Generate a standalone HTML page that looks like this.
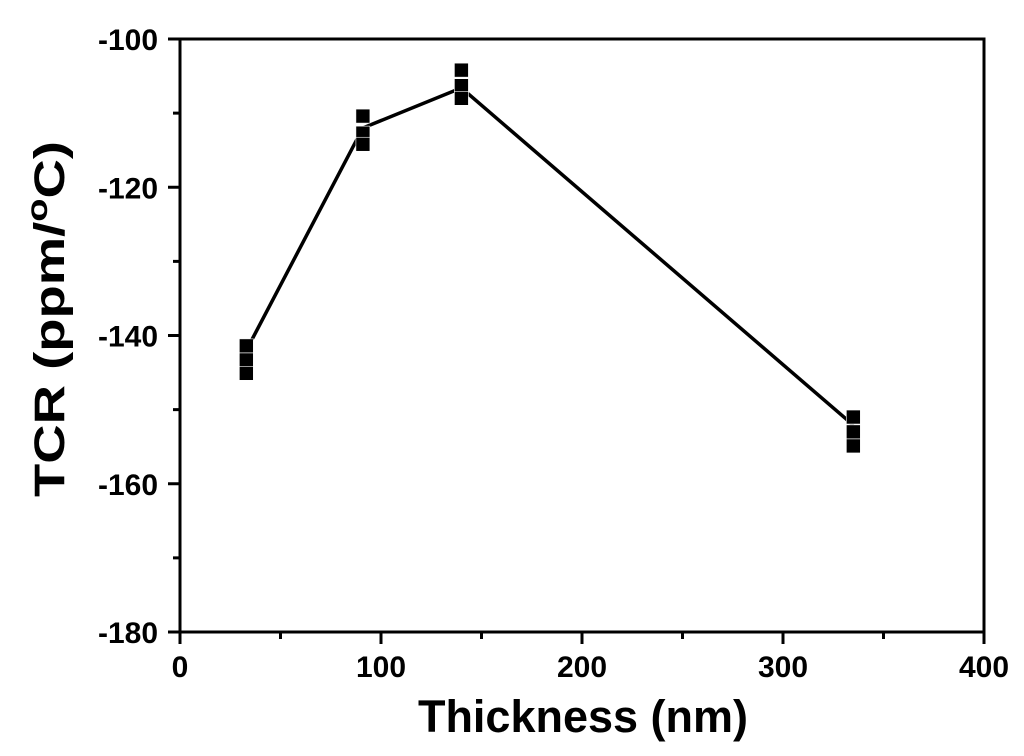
<!DOCTYPE html>
<html><head><meta charset="utf-8"><style>
html,body{margin:0;padding:0;background:#fff;}
svg text{font-family:"Liberation Sans",Arial,sans-serif;font-weight:bold;fill:#000;}
</style></head><body>
<svg id="chart" width="1024" height="751" viewBox="0 0 1024 751" xmlns="http://www.w3.org/2000/svg"></svg>
<script>
const xTicks=[0,100,200,300,400];
const yTicks=[-100,-120,-140,-160,-180];
const thickness=[33,91,140,335];
const run1=[-141.4,-110.4,-104.2,-151.0];
const run2=[-143.3,-112.7,-106.3,-153.0];
const run3=[-145.1,-114.2,-108.0,-154.9];
const meanLine=[-142.0,-112.0,-106.6,-152.1];

const L=180,R=984,T=39,B=632;
const xs=v=>L+(v-0)/(400-0)*(R-L);
const ys=v=>T+(-100-v)/(80)*(B-T);
const svg=document.getElementById('chart');
const NS='http://www.w3.org/2000/svg';
function mk(tag,attrs,parent){const e=document.createElementNS(NS,tag);for(const k in attrs)e.setAttribute(k,attrs[k]);(parent||svg).appendChild(e);return e;}

const frame=mk('rect',{x:L,y:T,width:R-L,height:B-T,fill:'none',stroke:'#000','stroke-width':3});



xTicks.forEach((v,i)=>{
  const t=mk('line',{x1:xs(v),x2:xs(v),y1:B,y2:B+12,stroke:'#000','stroke-width':3});
  
  
  const lb=mk('text',{x:xs(v),y:677,'text-anchor':'middle','font-size':30});
  lb.textContent=v;
  
  
  if(i<xTicks.length-1){
    const m=mk('line',{x1:xs(v+50),x2:xs(v+50),y1:B,y2:B+7,stroke:'#000','stroke-width':3});
    
    
  }
});
yTicks.forEach((v,i)=>{
  const t=mk('line',{x1:L-12,x2:L,y1:ys(v),y2:ys(v),stroke:'#000','stroke-width':3});
  
  
  const lb=mk('text',{x:L-22,y:ys(v)+11,'text-anchor':'end','font-size':30});
  lb.textContent=v;
  
  
  if(i<yTicks.length-1){
    const m=mk('line',{x1:L-7,x2:L,y1:ys(v-10),y2:ys(v-10),stroke:'#000','stroke-width':3});
    
    
  }
});

const pts=thickness.map((x,i)=>xs(x)+','+ys(meanLine[i])).join(' ');
const pl=mk('polyline',{points:pts,fill:'none',stroke:'#000','stroke-width':3.5});



[run1,run2,run3].forEach(run=>{
  run.forEach((v,i)=>{
    const r=mk('rect',{x:xs(thickness[i])-7,y:ys(v)-7,width:14,height:14,fill:'#000',stroke:'#fff','stroke-width':0.6});
    
    
  });
});

const xt=mk('text',{x:583,y:732,'text-anchor':'middle','font-size':45});
xt.textContent='Thickness (nm)';


const yt=mk('text',{x:0,y:0,'text-anchor':'middle','font-size':43,textLength:356,lengthAdjust:'spacingAndGlyphs',transform:'translate(64,319) rotate(-90)'});
yt.innerHTML='TCR (ppm/<tspan font-size="30" dy="-17">o</tspan><tspan dy="17">C)</tspan>';


</script>
</body></html>
